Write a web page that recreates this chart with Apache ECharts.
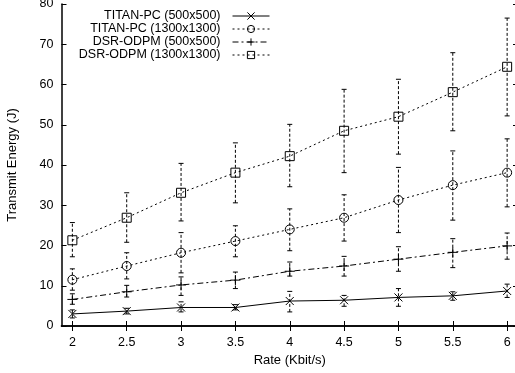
<!DOCTYPE html>
<html>
<head>
<meta charset="utf-8">
<script src="https://cdn.jsdelivr.net/npm/echarts@6/dist/echarts.min.js"></script>
<style>
html,body{margin:0;padding:0;background:#fff;}
#chart{width:515px;height:373px;}
</style>
</head>
<body>
<div id="chart"></div>
<script>
// ---- data ----
const rates = [2, 2.5, 3, 3.5, 4, 4.5, 5, 5.5, 6];
const xTicks = [2, 2.5, 3, 3.5, 4, 4.5, 5, 5.5, 6];

const titan500     = [3.0, 3.7, 4.6, 4.6, 6.2, 6.4, 7.1, 7.5, 8.7];
const titan500Low  = [2.0, 3.0, 3.5, 4.0, 3.5, 4.9, 4.9, 6.4, 7.1];
const titan500High = [4.0, 4.4, 6.0, 5.3, 8.6, 7.6, 9.3, 8.5, 10.4];

const titan1300     = [11.5, 14.9, 18.2, 21.1, 24.0, 26.9, 31.3, 35.0, 38.1];
const titan1300Low  = [8.9, 11.7, 13.2, 17.2, 18.7, 21.1, 23.2, 26.3, 29.6];
const titan1300High = [14.2, 18.2, 23.2, 24.9, 29.1, 32.6, 39.4, 43.5, 46.5];

const dsr500     = [6.6, 8.5, 10.2, 11.4, 13.6, 14.9, 16.6, 18.3, 19.9];
const dsr500Low  = [5.4, 7.2, 7.6, 9.3, 12.4, 12.4, 13.6, 14.5, 16.6];
const dsr500High = [8.0, 10.1, 12.2, 13.4, 15.9, 17.3, 19.7, 21.7, 23.1];

const dsr1300     = [21.3, 26.9, 33.1, 38.1, 42.2, 48.5, 52.0, 58.1, 64.4];
const dsr1300Low  = [17.2, 20.8, 26.1, 30.6, 34.6, 38.1, 42.7, 48.5, 52.2];
const dsr1300High = [25.7, 33.1, 40.4, 45.5, 50.1, 58.8, 61.3, 67.9, 76.5];

const names = ['TITAN-PC (500x500)', 'TITAN-PC (1300x1300)', 'DSR-ODPM (500x500)', 'DSR-ODPM (1300x1300)'];

// ---- build ----
const FONT = 'Liberation Sans, Arial, sans-serif';
function pairs(ys){ return rates.map((x,i)=>[x, ys[i]]); }
function errData(lo, hi){ return rates.map((x,i)=>[x, lo[i], hi[i]]); }

function errSeries(lo, hi){
  return {
    type: 'custom',
    silent: true,
    z: 1,
    data: errData(lo, hi),
    encode: {x: 0, y: [1, 2]},
    renderItem: function(params, api){
      const x = api.value(0);
      const p1 = api.coord([x, api.value(1)]);
      const p2 = api.coord([x, api.value(2)]);
      const cap = 2.5;
      const st = {stroke: '#000', lineWidth: 1, fill: null};
      return {
        type: 'group',
        children: [
          {type: 'line', shape: {x1: p1[0], y1: p1[1], x2: p2[0], y2: p2[1]}, style: Object.assign({lineDash: [3, 2]}, st)},
          {type: 'line', shape: {x1: p1[0]-cap, y1: p1[1], x2: p1[0]+cap, y2: p1[1]}, style: st},
          {type: 'line', shape: {x1: p2[0]-cap, y1: p2[1], x2: p2[0]+cap, y2: p2[1]}, style: st}
        ]
      };
    }
  };
}

function lineSeries(name, ys, symbol, size, dash){
  return {
    name: name,
    type: 'line',
    data: pairs(ys),
    symbol: symbol,
    symbolSize: size,
    showAllSymbol: true,
    z: 3,
    lineStyle: {color: '#000', width: 1, type: dash},
    itemStyle: {color: 'rgba(255,255,255,0)', borderColor: '#000', borderWidth: 1},
    emphasis: {disabled: true}
  };
}

const xSym = 'path://M0,0L10,10M10,0L0,10';
const plusSym = 'path://M5,0L5,10M0,5L10,5';

const option = {
  animation: false,
  backgroundColor: '#fff',
  textStyle: {fontFamily: FONT},
  grid: {left: 61.5, width: 456.5, top: 4, bottom: 47, containLabel: false, outerBoundsMode: 'none'},
  legend: {
    right: 245, top: 9.5,
    padding: 0,
    orient: 'vertical',
    align: 'right',
    itemWidth: 37, itemHeight: 9, itemGap: 0,
    lineStyle: {width: 1},
    itemStyle: {borderWidth: 1},
    textStyle: {fontFamily: FONT, fontSize: 12.5, color: '#000', lineHeight: 13, padding: [0, 7, 0, 0]},
    data: names
  },
  xAxis: [{
    type: 'value', min: 1.9, max: 6.1,
    name: 'Rate (Kbit/s)', nameLocation: 'middle', nameGap: 28,
    nameTextStyle: {fontFamily: FONT, fontSize: 13, color: '#000'},
    axisLine: {lineStyle: {color: '#000', width: 1.5}},
    axisTick: {inside: true, length: 5, customValues: xTicks, lineStyle: {color: '#000'}},
    axisLabel: {customValues: xTicks, color: '#000', fontSize: 12.5, fontFamily: FONT, margin: 10},
    splitLine: {show: false}
  }, {
    type: 'value', min: 1.9, max: 6.1, position: 'top',
    axisLine: {lineStyle: {color: '#000', width: 1.5}},
    axisTick: {inside: true, length: 5, customValues: xTicks, lineStyle: {color: '#000'}},
    axisLabel: {show: false},
    splitLine: {show: false}
  }],
  yAxis: [{
    type: 'value', min: 0, max: 80, interval: 10,
    name: 'Transmit Energy (J)', nameLocation: 'middle', nameGap: 43,
    nameTextStyle: {fontFamily: FONT, fontSize: 13, color: '#000'},
    axisLine: {show: true, lineStyle: {color: '#000', width: 1.5}},
    axisTick: {show: true, inside: true, length: 5, lineStyle: {color: '#000'}},
    axisLabel: {color: '#000', fontSize: 12.5, fontFamily: FONT, margin: 8},
    splitLine: {show: false}
  }, {
    type: 'value', min: 0, max: 80, interval: 10, position: 'right',
    axisLine: {show: true, lineStyle: {color: '#000', width: 1.5}},
    axisTick: {show: true, inside: true, length: 5, lineStyle: {color: '#000'}},
    axisLabel: {show: false},
    splitLine: {show: false}
  }],
  series: [
    errSeries(titan500Low, titan500High),
    errSeries(titan1300Low, titan1300High),
    errSeries(dsr500Low, dsr500High),
    errSeries(dsr1300Low, dsr1300High),
    lineSeries(names[0], titan500, xSym, 8, 'solid'),
    lineSeries(names[1], titan1300, 'circle', 9, [2, 3]),
    lineSeries(names[2], dsr500, plusSym, 10, [6, 3, 2, 3]),
    lineSeries(names[3], dsr1300, 'rect', 9, [2, 3])
  ]
};

const chart = echarts.init(document.getElementById('chart'), null, {renderer: 'canvas'});
chart.setOption(option);
</script>
</body>
</html>
